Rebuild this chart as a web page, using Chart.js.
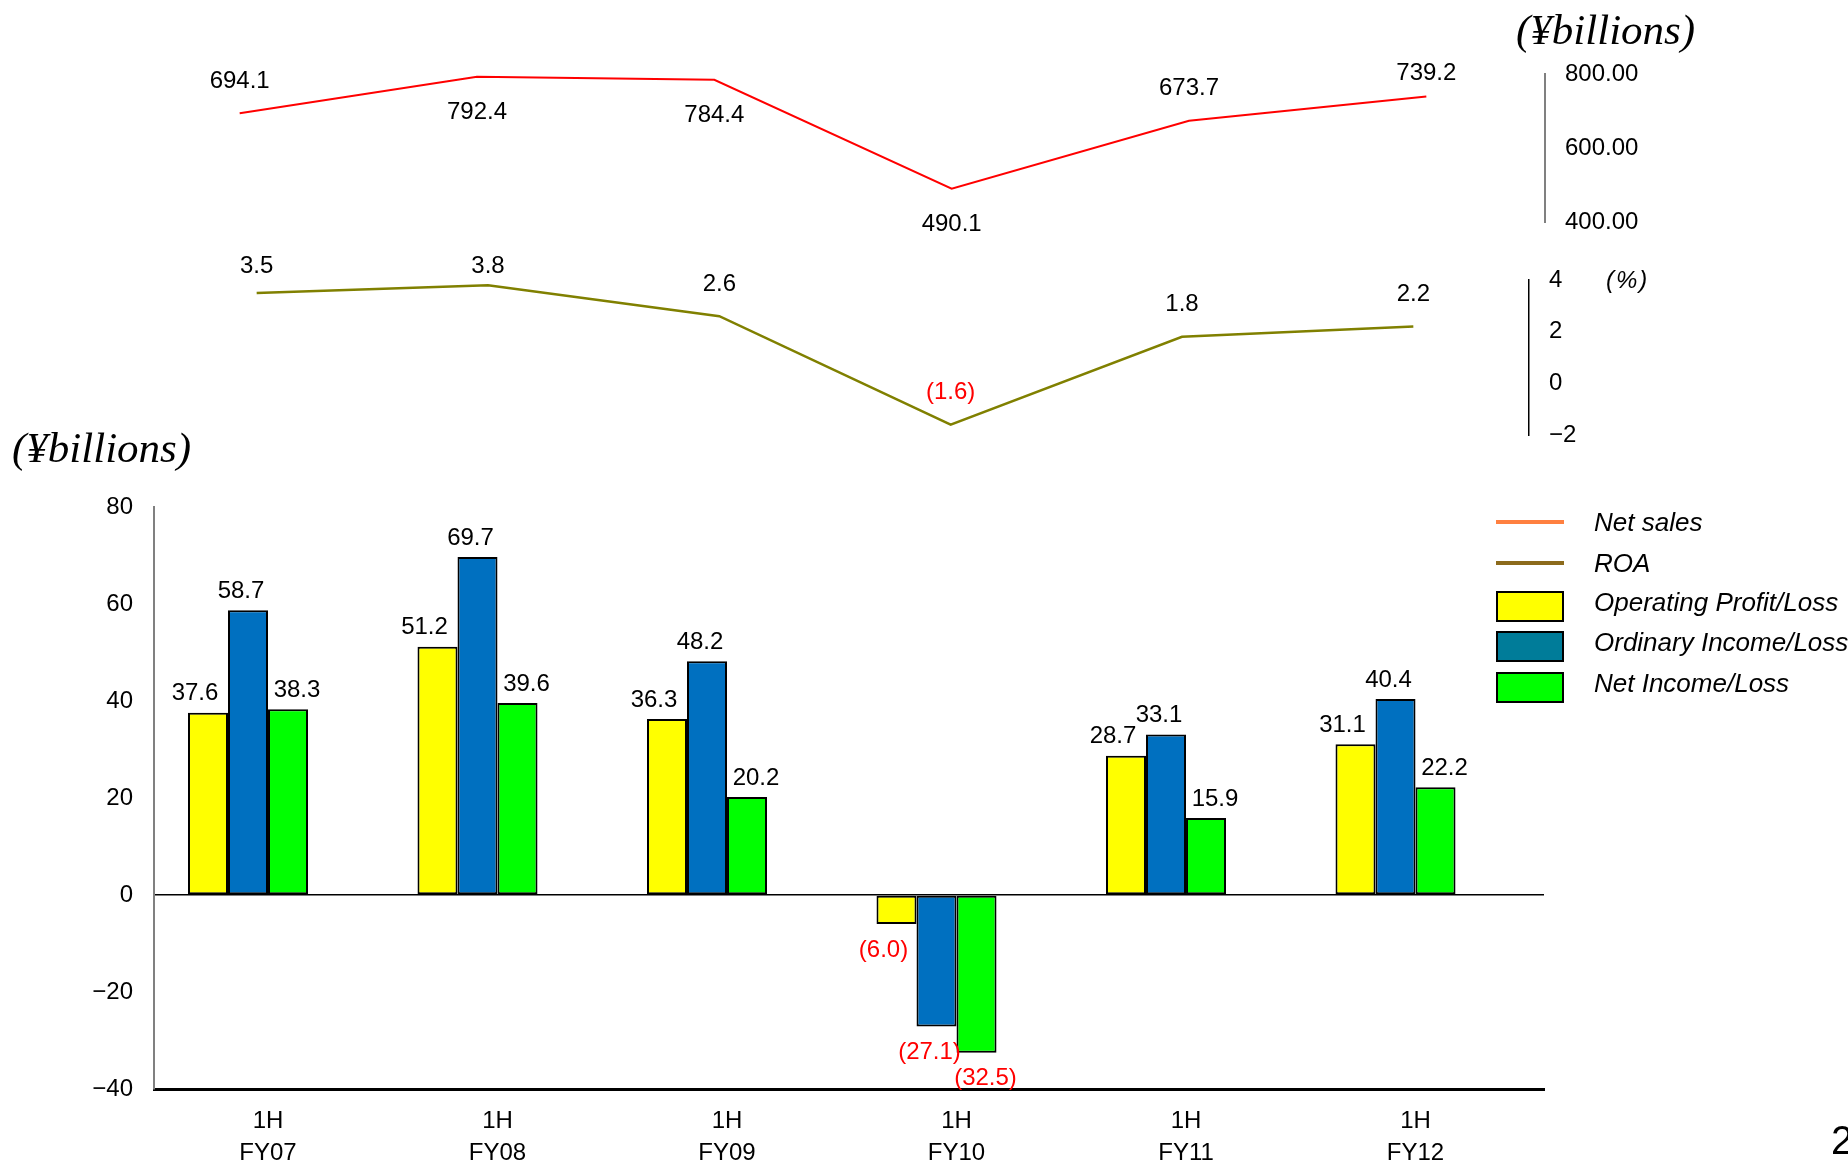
<!DOCTYPE html>
<html>
<head>
<meta charset="utf-8">
<script src="https://cdn.jsdelivr.net/npm/chart.js@4.4.1/dist/chart.umd.min.js"></script>
<style>
  html, body { margin:0; padding:0; background:#fff; }
  #stage { position:relative; width:1848px; height:1166px; overflow:hidden; background:#fff; font-family:"Liberation Sans", Arial, sans-serif; }
  canvas { position:absolute; left:0; top:0; }
  .unit { position:absolute; font-family:"Liberation Serif", "Times New Roman", serif; font-style:italic; font-size:43px; line-height:1; color:#000; white-space:nowrap; }
  .pct { position:absolute; font-style:italic; font-size:24px; line-height:1; color:#000; letter-spacing:2px; }
  .lg-item { position:absolute; left:1496px; height:32px; width:360px; }
  .lg-line { position:absolute; left:0; width:68px; height:4px; top:14px; }
  .lg-box { position:absolute; left:0; top:0; width:64px; height:27px; border:2px solid #000; }
  .lg-text { position:absolute; left:98px; line-height:32px; font-size:26px; font-style:italic; color:#000; white-space:nowrap; }
  .page { position:absolute; left:1831px; top:1118px; font-size:40px; color:#000; }
</style>
</head>
<body>
<div id="stage">
  <canvas id="cSales" width="1848" height="1166"></canvas>
  <canvas id="cRoa" width="1848" height="1166"></canvas>
  <canvas id="cBars" width="1848" height="1166"></canvas>
  <div class="unit" style="left:1516px; top:8px;">(¥billions)</div>
  <div class="unit" style="left:12px; top:426px;">(¥billions)</div>
  <div class="pct" style="left:1606px; top:268px;">(%)</div>
  <div id="legend"></div>
  <div class="page">2</div>
</div>
<script>
// ---------------- data ----------------
const categories = [["1H","FY07"],["1H","FY08"],["1H","FY09"],["1H","FY10"],["1H","FY11"],["1H","FY12"]];
const netSales = [694.1, 792.4, 784.4, 490.1, 673.7, 739.2];
const roa = [3.5, 3.8, 2.6, -1.6, 1.8, 2.2];
const operatingProfit = [37.6, 51.2, 36.3, -6.0, 28.7, 31.1];
const ordinaryIncome = [58.7, 69.7, 48.2, -27.1, 33.1, 40.4];
const netIncome = [38.3, 39.6, 20.2, -32.5, 15.9, 22.2];
const seriesNames = ["Net sales", "ROA", "Operating Profit/Loss", "Ordinary Income/Loss", "Net Income/Loss"];
const salesTicks = [400, 600, 800];
const roaTicks = [-2, 0, 2, 4];
const barTicks = [-40, -20, 0, 20, 40, 60, 80];
const netSalesLabelSide = ["above", "below", "below", "below", "above", "above"];

// ---------------- helpers ----------------
const FONT = "'Liberation Sans', Arial, sans-serif";
const W = 1848, H = 1166;
const fmt = v => v < 0 ? "(" + Math.abs(v).toFixed(1) + ")" : v.toFixed(1);
const minus = v => v < 0 ? "\u2212" + Math.abs(v) : String(v);

const valueLabels = {
  id: "valueLabels",
  afterDatasetsDraw(chart, args, opts) {
    const ctx = chart.ctx;
    ctx.save();
    ctx.font = "24px " + FONT;
    ctx.textAlign = "center";
    ctx.textBaseline = "middle";
    chart.data.datasets.forEach((ds, di) => {
      const meta = chart.getDatasetMeta(di);
      const dx = ds.labelDx || 0;
      meta.data.forEach((el, i) => {
        const raw = ds.data[i];
        const v = (typeof raw === "object") ? raw.y : raw;
        let y;
        if (meta.type === "bar") {
          y = v < 0 ? el.y + opts.below : el.y - opts.above;
        } else {
          const side = (ds.labelSide && ds.labelSide[i]) || "above";
          y = side === "below" ? el.y + opts.below : Math.max(el.y - opts.above, opts.minY);
        }
        ctx.fillStyle = v < 0 ? "#FF0000" : "#000000";
        ctx.fillText(fmt(v), el.x + dx, y);
      });
    });
    ctx.restore();
  }
};

const baseOpts = {
  responsive: false,
  animation: false,
  events: [],
  devicePixelRatio: 1
};

// ---------------- Net sales line ----------------
new Chart(document.getElementById("cSales"), {
  type: "line",
  data: {
    labels: categories.map(c => c.join(" ")),
    datasets: [{
      label: seriesNames[0], data: netSales, borderColor: "#FF0000", borderWidth: 2,
      pointRadius: 0, tension: 0, labelSide: netSalesLabelSide
    }]
  },
  options: Object.assign({}, baseOpts, {
    layout: { padding: { left: 121, right: W - 1545 - 120, top: 74, bottom: H - 222 } },
    plugins: { legend: { display: false }, tooltip: { enabled: false },
      valueLabels: { above: 32, below: 36, minY: 73 } },
    scales: {
      x: { display: false, offset: true },
      y: {
        position: "right", min: 400, max: 800,
        afterBuildTicks: s => { s.ticks = salesTicks.map(v => ({ value: v })); },
        afterFit: s => { s.width = 120; },
        ticks: { padding: 20, color: "#000", font: { family: FONT, size: 24 }, callback: v => Number(v).toFixed(2) },
        grid: { display: false, drawTicks: false },
        border: { display: true, color: "#808080", width: 2 }
      }
    }
  }),
  plugins: [valueLabels]
});

// ---------------- ROA line ----------------
new Chart(document.getElementById("cRoa"), {
  type: "line",
  data: {
    labels: categories.map(c => c.join(" ")),
    datasets: [{
      label: seriesNames[1], data: roa, borderColor: "#808000", borderWidth: 2.5,
      pointRadius: 0, tension: 0
    }]
  },
  options: Object.assign({}, baseOpts, {
    layout: { padding: { left: 141, right: W - 1529 - 80, top: 280, bottom: H - 435 } },
    plugins: { legend: { display: false }, tooltip: { enabled: false },
      valueLabels: { above: 32, below: 32, minY: 266 } },
    scales: {
      x: { display: false, offset: true },
      y: {
        position: "right", min: -2, max: 4,
        afterBuildTicks: s => { s.ticks = roaTicks.map(v => ({ value: v })); },
        afterFit: s => { s.width = 80; },
        ticks: { padding: 20, color: "#000", font: { family: FONT, size: 24 }, callback: v => minus(v) },
        grid: { display: false, drawTicks: false },
        border: { display: true, color: "#000", width: 1.5 }
      }
    }
  }),
  plugins: [valueLabels]
});

// ---------------- Bars ----------------
const toXY = arr => arr.map((v, i) => ({ x: i, y: v }));
const barStyle = { borderColor: "#000", borderWidth: 2, borderSkipped: false, categoryPercentage: 0.523, barPercentage: 1.0 };
new Chart(document.getElementById("cBars"), {
  type: "bar",
  data: {
    datasets: [
      Object.assign({ label: seriesNames[2], data: toXY(operatingProfit), backgroundColor: "#FFFF00", labelDx: -13 }, barStyle),
      Object.assign({ label: seriesNames[3], data: toXY(ordinaryIncome), backgroundColor: "#0070C0", labelDx: -7 }, barStyle),
      Object.assign({ label: seriesNames[4], data: toXY(netIncome), backgroundColor: "#00FF00", labelDx: 9 }, barStyle)
    ]
  },
  options: Object.assign({}, baseOpts, {
    layout: { padding: { left: 154 - 100, right: W - 1544, top: 507, bottom: 0 } },
    plugins: { legend: { display: false }, tooltip: { enabled: false },
      valueLabels: { above: 19, below: 26, minY: 0 } },
    scales: {
      x: {
        type: "linear", offset: false, min: -0.4096, max: 5.647,
        afterBuildTicks: s => { s.ticks = categories.map((c, i) => ({ value: i })); },
        afterFit: s => { s.height = H - 1089; },
        ticks: { autoSkip: false, maxRotation: 0, labelOffset: 20, padding: 16, color: "#000",
          font: { family: FONT, size: 24, lineHeight: 1.333 },
          callback: v => categories[v] || "" },
        grid: { display: false, drawTicks: false },
        border: { display: true, color: "#000", width: 3 }
      },
      y: {
        min: -40, max: 80,
        afterBuildTicks: s => { s.ticks = barTicks.map(v => ({ value: v })); },
        afterFit: s => { s.width = 100; },
        ticks: { padding: 21, color: "#000", font: { family: FONT, size: 24 }, callback: v => minus(v) },
        grid: { drawTicks: false, color: c => (c.tick && c.tick.value === 0) ? "#000" : "rgba(0,0,0,0)", lineWidth: 1.5 },
        border: { display: true, color: "#808080", width: 2 }
      }
    }
  }),
  plugins: [valueLabels]
});

// ---------------- Legend ----------------
const legendItems = [
  { name: seriesNames[0], kind: "line", color: "#FF8040", top: 506 },
  { name: seriesNames[1], kind: "line", color: "#8C6B1C", top: 547 },
  { name: seriesNames[2], kind: "box", color: "#FFFF00", top: 591 },
  { name: seriesNames[3], kind: "box", color: "#007C99", top: 631 },
  { name: seriesNames[4], kind: "box", color: "#00FF00", top: 672 }
];
const lg = document.getElementById("legend");
legendItems.forEach(it => {
  const d = document.createElement("div");
  d.className = "lg-item";
  d.style.top = it.top + "px";
  const sw = document.createElement("div");
  sw.className = it.kind === "line" ? "lg-line" : "lg-box";
  sw.style.background = it.color;
  const t = document.createElement("div");
  t.className = "lg-text";
  t.style.top = (it.kind === "line" ? 0 : -5) + "px";
  t.textContent = it.name;
  d.appendChild(sw); d.appendChild(t);
  lg.appendChild(d);
});
</script>
</body>
</html>
